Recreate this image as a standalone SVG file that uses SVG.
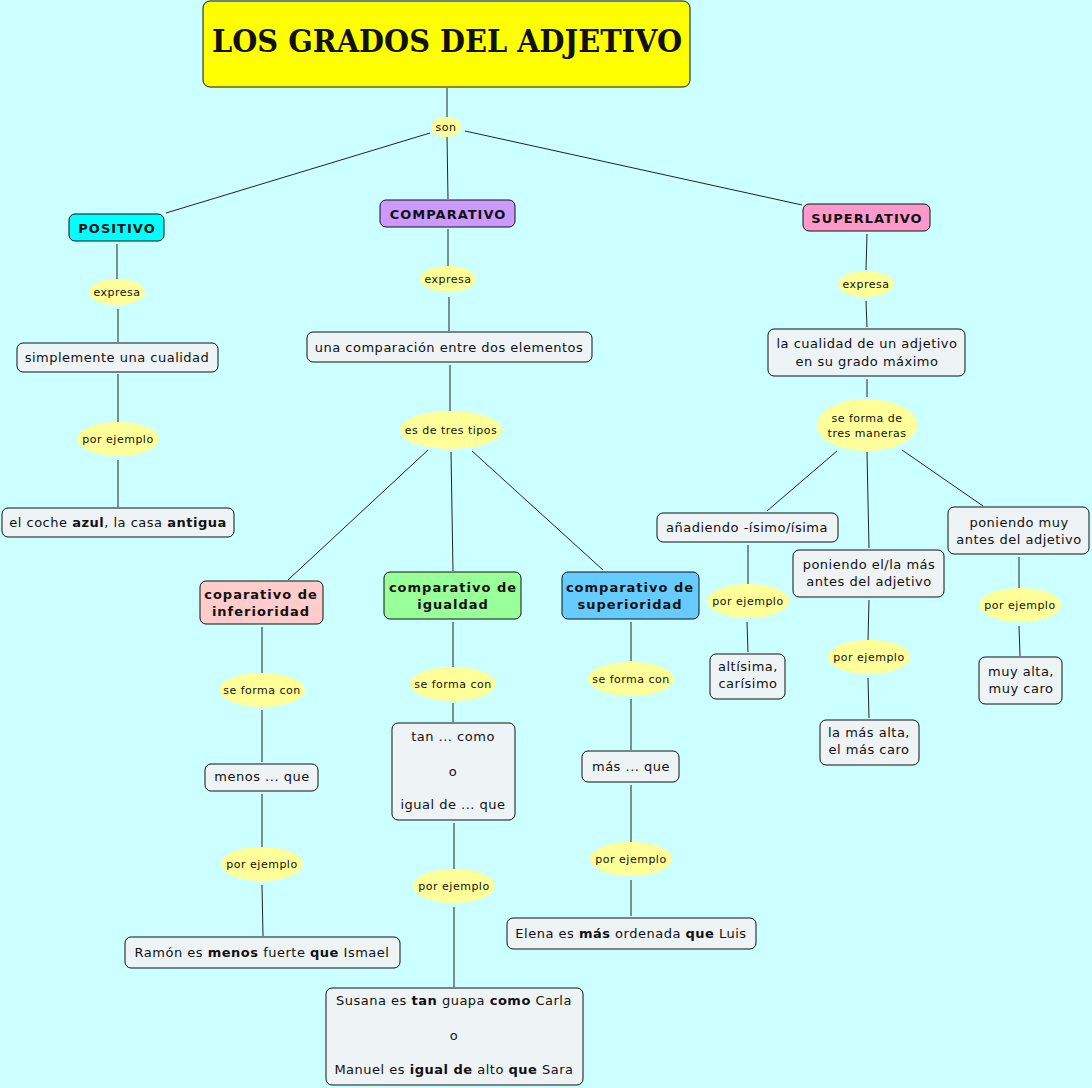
<svg xmlns="http://www.w3.org/2000/svg" width="1092" height="1088" viewBox="0 0 1092 1088">
<style>
.bg{fill:#CCFFFF}
.box{fill:#EEF3F5;stroke:#111;stroke-width:1}
.cat{stroke:#111;stroke-width:1}
.lbl{fill:#FFFF99;stroke:none}
.t{font-family:"DejaVu Sans",Verdana,sans-serif;font-size:13px;letter-spacing:0.5px;fill:#111;text-anchor:middle}
.tb{font-family:"DejaVu Sans",Verdana,sans-serif;font-size:13px;font-weight:bold;letter-spacing:1px;fill:#111;text-anchor:middle}
.tl{font-family:"DejaVu Sans",Verdana,sans-serif;font-size:11px;letter-spacing:0.5px;fill:#111;text-anchor:middle}
.b{font-weight:bold}
.ln{stroke:#222;stroke-width:1;fill:none}
</style>
<rect class="bg" x="0" y="0" width="1092" height="1088"/>

<g id="connectors">
<line class="ln" x1="447" y1="88" x2="447" y2="118"/>
<line class="ln" x1="430" y1="133" x2="166" y2="213"/>
<line class="ln" x1="447" y1="136" x2="448" y2="199"/>
<line class="ln" x1="465" y1="131" x2="802" y2="205"/>
<line class="ln" x1="117" y1="244" x2="117" y2="279"/>
<line class="ln" x1="118" y1="309" x2="118" y2="342"/>
<line class="ln" x1="118" y1="374" x2="118" y2="422"/>
<line class="ln" x1="118" y1="460" x2="118" y2="507"/>
<line class="ln" x1="448" y1="229" x2="448" y2="268"/>
<line class="ln" x1="449" y1="297" x2="449" y2="331"/>
<line class="ln" x1="450" y1="365" x2="450" y2="411"/>
<line class="ln" x1="428" y1="450" x2="288" y2="580"/>
<line class="ln" x1="451" y1="452" x2="453" y2="571"/>
<line class="ln" x1="472" y1="451" x2="603" y2="570"/>
<line class="ln" x1="262" y1="627" x2="262" y2="673"/>
<line class="ln" x1="262" y1="710" x2="262" y2="762"/>
<line class="ln" x1="262" y1="794" x2="262" y2="848"/>
<line class="ln" x1="262" y1="885" x2="263" y2="936"/>
<line class="ln" x1="453" y1="622" x2="453" y2="667"/>
<line class="ln" x1="453" y1="703" x2="453" y2="722"/>
<line class="ln" x1="454" y1="823" x2="454" y2="869"/>
<line class="ln" x1="454" y1="907" x2="454" y2="987"/>
<line class="ln" x1="631" y1="622" x2="631" y2="661"/>
<line class="ln" x1="631" y1="699" x2="631" y2="750"/>
<line class="ln" x1="631" y1="785" x2="631" y2="843"/>
<line class="ln" x1="631" y1="880" x2="631" y2="916"/>
<line class="ln" x1="867" y1="234" x2="866" y2="270"/>
<line class="ln" x1="866" y1="301" x2="867" y2="327"/>
<line class="ln" x1="867" y1="379" x2="867" y2="397"/>
<line class="ln" x1="837" y1="451" x2="767" y2="511"/>
<line class="ln" x1="867" y1="452" x2="869" y2="548"/>
<line class="ln" x1="902" y1="450" x2="983" y2="506"/>
<line class="ln" x1="748" y1="545" x2="748" y2="584"/>
<line class="ln" x1="747" y1="622" x2="748" y2="652"/>
<line class="ln" x1="869" y1="600" x2="868" y2="640"/>
<line class="ln" x1="868" y1="678" x2="869" y2="718"/>
<line class="ln" x1="1019" y1="557" x2="1019" y2="589"/>
<line class="ln" x1="1019" y1="626" x2="1020" y2="656"/>
</g>

<g id="title">
<rect x="203" y="1" width="487" height="86" rx="7" fill="#FFFF00" stroke="#111"/>
<text x="447" y="52" font-family="'DejaVu Serif','Liberation Serif',serif" font-size="32" font-weight="bold" text-anchor="middle" fill="#111" textLength="470" lengthAdjust="spacingAndGlyphs">LOS GRADOS DEL ADJETIVO</text>
</g>

<g id="lbl-son"><ellipse class="lbl" cx="446" cy="127" rx="15" ry="10"/><text class="tl" x="446" y="131">son</text></g>

<g id="positivo"><rect class="cat" x="69" y="214" width="95" height="27" rx="6" fill="#00FFFF"/><text class="tb" x="117" y="233">POSITIVO</text></g>
<g id="lbl-pos-expresa"><ellipse class="lbl" cx="117" cy="292" rx="28" ry="13"/><text class="tl" x="117" y="296">expresa</text></g>
<g id="pos-cualidad"><rect class="box" x="17" y="343" width="201" height="29" rx="6"/><text class="t" x="117" y="362">simplemente una cualidad</text></g>
<g id="lbl-pos-ejemplo"><ellipse class="lbl" cx="118" cy="439" rx="41" ry="17"/><text class="tl" x="118" y="443">por ejemplo</text></g>
<g id="pos-ejemplo"><rect class="box" x="2" y="508" width="232" height="29" rx="6"/><text class="t" x="118" y="527">el coche <tspan class="b">azul</tspan>, la casa <tspan class="b">antigua</tspan></text></g>

<g id="comparativo"><rect class="cat" x="380" y="200" width="135" height="27" rx="6" fill="#CC99FF"/><text class="tb" x="448" y="219">COMPARATIVO</text></g>
<g id="lbl-comp-expresa"><ellipse class="lbl" cx="448" cy="279" rx="28" ry="13"/><text class="tl" x="448" y="283">expresa</text></g>
<g id="comp-comparacion"><rect class="box" x="307" y="332" width="285" height="30" rx="6"/><text class="t" x="449" y="352">una comparación entre dos elementos</text></g>
<g id="lbl-tres-tipos"><ellipse class="lbl" cx="451" cy="430" rx="51" ry="19"/><text class="tl" x="451" y="434">es de tres tipos</text></g>

<g id="inferioridad"><rect class="cat" x="200" y="581" width="123" height="43" rx="6" fill="#FFCCCC"/><text class="tb" x="261" y="599">coparativo de</text><text class="tb" x="261" y="616">inferioridad</text></g>
<g id="lbl-inf-forma"><ellipse class="lbl" cx="262" cy="690" rx="43" ry="17"/><text class="tl" x="262" y="694">se forma con</text></g>
<g id="inf-menos"><rect class="box" x="205" y="764" width="113" height="27" rx="6"/><text class="t" x="262" y="781">menos ... que</text></g>
<g id="lbl-inf-ejemplo"><ellipse class="lbl" cx="262" cy="864" rx="41" ry="17"/><text class="tl" x="262" y="868">por ejemplo</text></g>
<g id="inf-ejemplo"><rect class="box" x="125" y="937" width="275" height="31" rx="6"/><text class="t" x="262" y="957">Ramón es <tspan class="b">menos</tspan> fuerte <tspan class="b">que</tspan> Ismael</text></g>

<g id="igualdad"><rect class="cat" x="384" y="572" width="137" height="47" rx="6" fill="#99FF99"/><text class="tb" x="453" y="592">comparativo de</text><text class="tb" x="453" y="609">igualdad</text></g>
<g id="lbl-ig-forma"><ellipse class="lbl" cx="453" cy="684" rx="43" ry="17"/><text class="tl" x="453" y="688">se forma con</text></g>
<g id="ig-tan"><rect class="box" x="392" y="723" width="123" height="97" rx="6"/><text class="t" x="453" y="741">tan ... como</text><text class="t" x="453" y="776">o</text><text class="t" x="453" y="809">igual de ... que</text></g>
<g id="lbl-ig-ejemplo"><ellipse class="lbl" cx="454" cy="886" rx="41" ry="17"/><text class="tl" x="454" y="890">por ejemplo</text></g>
<g id="ig-ejemplo"><rect class="box" x="326" y="988" width="257" height="97" rx="6"/><text class="t" x="454" y="1005">Susana es <tspan class="b">tan</tspan> guapa <tspan class="b">como</tspan> Carla</text><text class="t" x="454" y="1040">o</text><text class="t" x="454" y="1074">Manuel es <tspan class="b">igual de</tspan> alto <tspan class="b">que</tspan> Sara</text></g>

<g id="superioridad"><rect class="cat" x="562" y="572" width="137" height="47" rx="6" fill="#66CCFF"/><text class="tb" x="630" y="592">comparativo de</text><text class="tb" x="630" y="609">superioridad</text></g>
<g id="lbl-sup-forma"><ellipse class="lbl" cx="631" cy="679" rx="43" ry="17"/><text class="tl" x="631" y="683">se forma con</text></g>
<g id="sup-mas"><rect class="box" x="582" y="751" width="97" height="31" rx="6"/><text class="t" x="631" y="771">más ... que</text></g>
<g id="lbl-sup-ejemplo"><ellipse class="lbl" cx="631" cy="859" rx="41" ry="17"/><text class="tl" x="631" y="863">por ejemplo</text></g>
<g id="sup-ejemplo"><rect class="box" x="507" y="918" width="249" height="31" rx="6"/><text class="t" x="631" y="938">Elena es <tspan class="b">más</tspan> ordenada <tspan class="b">que</tspan> Luis</text></g>

<g id="superlativo"><rect class="cat" x="803" y="204" width="127" height="27" rx="6" fill="#FF99CC"/><text class="tb" x="867" y="223">SUPERLATIVO</text></g>
<g id="lbl-sl-expresa"><ellipse class="lbl" cx="866" cy="284" rx="28" ry="13"/><text class="tl" x="866" y="288">expresa</text></g>
<g id="sl-cualidad"><rect class="box" x="768" y="329" width="197" height="47" rx="6"/><text class="t" x="867" y="348">la cualidad de un adjetivo</text><text class="t" x="867" y="366">en su grado máximo</text></g>
<g id="lbl-tres-maneras"><ellipse class="lbl" cx="867" cy="425" rx="50" ry="26"/><text class="tl" x="867" y="422">se forma de</text><text class="tl" x="867" y="437">tres maneras</text></g>

<g id="sl-isimo"><rect class="box" x="657" y="513" width="181" height="29" rx="6"/><text class="t" x="747" y="532">añadiendo -ísimo/ísima</text></g>
<g id="lbl-isimo-ejemplo"><ellipse class="lbl" cx="748" cy="601" rx="41" ry="17"/><text class="tl" x="748" y="605">por ejemplo</text></g>
<g id="isimo-ejemplo"><rect class="box" x="710" y="654" width="75" height="45" rx="6"/><text class="t" x="748" y="671">altísima,</text><text class="t" x="748" y="688">carísimo</text></g>

<g id="sl-elmas"><rect class="box" x="793" y="550" width="151" height="47" rx="6"/><text class="t" x="869" y="569">poniendo el/la más</text><text class="t" x="869" y="586">antes del adjetivo</text></g>
<g id="lbl-elmas-ejemplo"><ellipse class="lbl" cx="869" cy="657" rx="41" ry="17"/><text class="tl" x="869" y="661">por ejemplo</text></g>
<g id="elmas-ejemplo"><rect class="box" x="820" y="720" width="99" height="45" rx="6"/><text class="t" x="869" y="737">la más alta,</text><text class="t" x="869" y="754">el más caro</text></g>

<g id="sl-muy"><rect class="box" x="948" y="507" width="141" height="47" rx="6"/><text class="t" x="1019" y="527">poniendo muy</text><text class="t" x="1019" y="544">antes del adjetivo</text></g>
<g id="lbl-muy-ejemplo"><ellipse class="lbl" cx="1020" cy="605" rx="41" ry="17"/><text class="tl" x="1020" y="609">por ejemplo</text></g>
<g id="muy-ejemplo"><rect class="box" x="979" y="657" width="83" height="47" rx="6"/><text class="t" x="1021" y="676">muy alta,</text><text class="t" x="1021" y="693">muy caro</text></g>
</svg>
